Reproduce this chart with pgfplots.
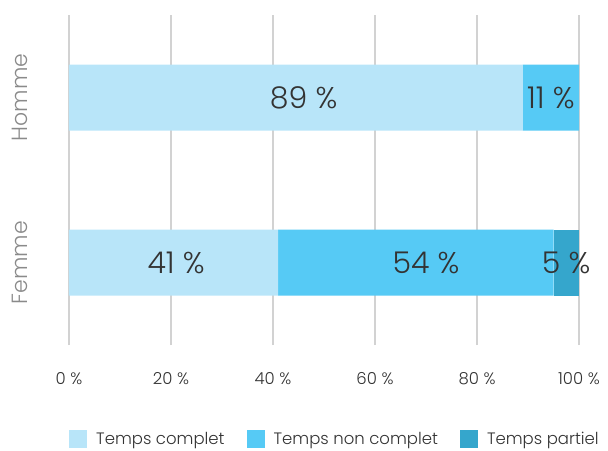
\documentclass[border=0pt]{standalone}
\usepackage{pgfplots}
\pgfplotsset{compat=1.18}
\usepackage{fontspec}
\setmainfont{Poppins}[UprightFont={* Light}]
\definecolor{cfull}{HTML}{B8E5F9}
\definecolor{cnon}{HTML}{56CAF5}
\definecolor{cpart}{HTML}{35A6CC}
\definecolor{txt}{HTML}{333333}
\definecolor{ylab}{HTML}{8A8A8A}
\begin{document}
\begin{tikzpicture}
\begin{axis}[
  name=main,
  scale only axis,
  width=510pt, height=330pt,
  xbar stacked,
  bar width=66pt,
  xmin=0, xmax=100,
  ymin=-0.5, ymax=1.5,
  ytick={0,1},
  yticklabels={Femme,Homme},
  xtick={0,20,...,100},
  /pgf/number format/assume math mode=true,
  xticklabel={\pgfmathprintnumber{\tick} \%},
  xticklabel style={font=\fontsize{16.5}{18}\selectfont, text=txt},
  xticklabel shift=24pt,
  yticklabel style={rotate=90, anchor=south, font=\fontsize{22}{26}\selectfont, text=ylab},
  yticklabel shift=38pt,
  axis line style={draw=none},
  major tick length=0pt,
  xmajorgrids,
  grid style={draw=gray!35, line width=1.5pt},
  legend columns=3,
  legend style={at={(rel axis cs:0,0)}, anchor=north west, yshift=-85pt,
    draw=none, inner sep=0pt, font=\fontsize{16.5}{18}\selectfont, text=txt,
    /tikz/every odd column/.append style={column sep=7pt},
    /tikz/every even column/.append style={column sep=20pt}},
  legend cell align=left,
  legend image code/.code={\fill[#1] (0pt,-9pt) rectangle (18pt,9pt);},
]
\addplot[fill=cfull, draw=none] coordinates {(41,0) (89,1)};
\addplot[fill=cnon, draw=none] coordinates {(54,0) (11,1)};
\addplot[fill=cpart, draw=none] coordinates {(5,0) (0,1)};
\legend{Temps complet, Temps non complet, Temps partiel}
\end{axis}
\begin{axis}[
  at={(main.south west)}, anchor=south west,
  scale only axis,
  width=510pt, height=330pt,
  xmin=0, xmax=100,
  ymin=-0.5, ymax=1.5,
  hide axis,
]
\addplot[draw=none, mark=none, nodes near coords, point meta=explicit symbolic,
  every node near coord/.style={anchor=center, font=\fontsize{30}{33}\selectfont, text=txt}]
  coordinates {(46,1)[89 \%] (94.5,1)[11 \%] (21,0)[41 \%] (70,0)[54 \%] (97.5,0)[5 \%]};
\end{axis}
\pgfresetboundingbox
\useasboundingbox (main.south west) ++(-69pt,-105pt) rectangle ++(608pt,450pt);
\end{tikzpicture}
\end{document}
